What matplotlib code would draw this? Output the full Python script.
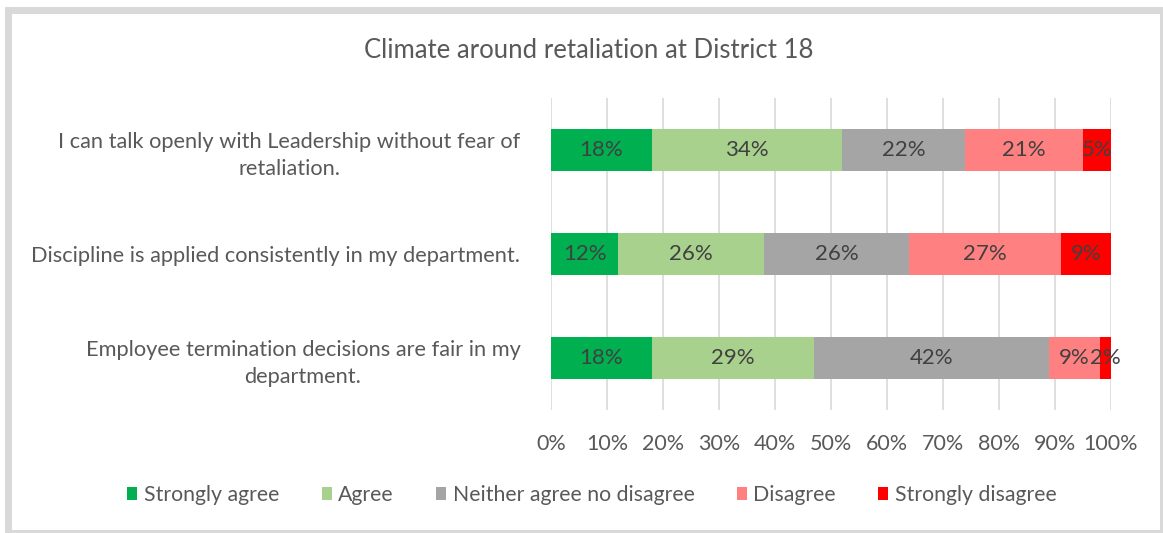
import matplotlib
matplotlib.use("Agg")
import matplotlib.pyplot as plt
from matplotlib.patches import Rectangle, Patch
import numpy as np

plt.rcParams['font.family'] = ['Lato', 'DejaVu Sans']

categories = [
    "I can talk openly with Leadership without fear of\nretaliation.",
    "Discipline is applied consistently in my department.",
    "Employee termination decisions are fair in my\ndepartment.",
]
series_names = ["Strongly agree", "Agree", "Neither agree no disagree",
                "Disagree", "Strongly disagree"]
strongly_agree = [18, 12, 18]
agree = [34, 26, 29]
neither = [22, 26, 42]
disagree = [21, 27, 9]
strongly_disagree = [5, 9, 2]
series_values = [strongly_agree, agree, neither, disagree, strongly_disagree]
colors = ["#00b050", "#a9d18e", "#a5a5a5", "#ff8080", "#ff0000"]
x_ticks = list(range(0, 101, 10))

W, H = 1163, 533
fig = plt.figure(figsize=(W / 100, H / 100), dpi=100)

# chart-area frame: heavier shade on the top/left edges
fig.patches.append(Rectangle((5 / W, 0), 1 - 5 / W, 1 - 7 / H, transform=fig.transFigure,
                             facecolor='#d9d9d9', edgecolor='none', zorder=-3))
fig.patches.append(Rectangle((12 / W, 3 / H), (1160 - 12) / W, (519 - 3) / H,
                             transform=fig.transFigure, facecolor='white',
                             edgecolor='none', zorder=-2))

ax = fig.add_axes([551 / W, 123 / H, 560 / W, 312 / H])
ax.set_facecolor('none')

y = np.arange(len(categories))[::-1]
left = np.zeros(len(categories))
for name, vals, col in zip(series_names, series_values, colors):
    vals = np.array(vals, dtype=float)
    ax.barh(y, vals, left=left, height=0.4, color=col, label=name, zorder=3)
    for yi, l, v in zip(y, left, vals):
        ax.text(l + v / 2, yi, f"{int(v)}%", ha='center', va='center',
                fontsize=16, color='#404040', zorder=4)
    left += vals

ax.set_xlim(0, 100)
ax.set_ylim(-0.5, len(categories) - 0.5)
ax.set_xticks(x_ticks)
ax.set_xticklabels([f"{t}%" for t in x_ticks], fontsize=15.5, color='#595959')
ax.set_yticks(y)
ax.set_yticklabels(categories, fontsize=15.7, color='#595959',
                   multialignment='center', linespacing=1.45)
ax.tick_params(axis='both', length=0)
ax.tick_params(axis='x', pad=17)
ax.tick_params(axis='y', pad=22)
ax.xaxis.grid(True, color='#d9d9d9', linewidth=1.2, zorder=0)
for s in ax.spines.values():
    s.set_visible(False)

fig.text(589 / W, 1 - 50 / H, "Climate around retaliation at District 18",
         ha='center', va='center', fontsize=18.5, color='#595959')

handles = [Patch(facecolor=c, edgecolor='none') for c in colors]
fig.legend(handles, series_names, loc='center', bbox_to_anchor=(592 / W, 1 - 495 / H),
           ncol=5, frameon=False, fontsize=15.3, handlelength=0.47, handleheight=0.6,
           handletextpad=0.3, columnspacing=2.0, labelcolor='#595959')

fig.savefig("out.png", dpi=100, facecolor='white')
